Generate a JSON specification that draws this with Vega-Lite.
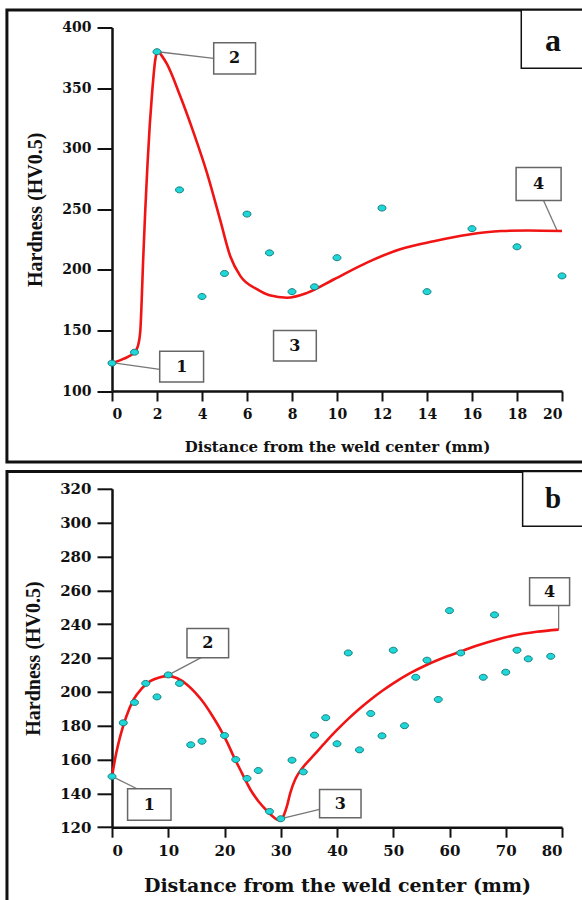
{
  "$schema": "https://vega.github.io/schema/vega-lite/v6.json",
  "padding": {"left": 5, "top": 8.5, "right": 0, "bottom": 0},
  "autosize": {"type": "pad"},
  "background": "white",
  "bounds": "flush",
  "spacing": 97.3,
  "config": {
    "view": {"stroke": null},
    "axis": {
      "grid": false,
      "domainColor": "#111111",
      "domainWidth": 2.5,
      "tickColor": "#111111",
      "tickWidth": 2,
      "labelFont": "DejaVu Serif",
      "labelFontWeight": "bold",
      "labelColor": "#111111",
      "titleColor": "#111111",
      "titleFontWeight": "bold"
    }
  },
  "datasets": {
    "pointsA": [
      {"x": 0, "y": 123}, {"x": 1, "y": 132}, {"x": 2, "y": 380}, {"x": 3, "y": 266},
      {"x": 4, "y": 178}, {"x": 5, "y": 197}, {"x": 6, "y": 246}, {"x": 7, "y": 214},
      {"x": 8, "y": 182}, {"x": 9, "y": 186}, {"x": 10, "y": 210}, {"x": 12, "y": 251},
      {"x": 14, "y": 182}, {"x": 16, "y": 234}, {"x": 18, "y": 219}, {"x": 20, "y": 195}
    ],
    "curveA": [
      {"x": 0, "y": 123}, {"x": 0.5, "y": 126.5}, {"x": 1.0, "y": 132}, {"x": 1.15, "y": 137},
      {"x": 1.26, "y": 150}, {"x": 1.32, "y": 175}, {"x": 1.38, "y": 206}, {"x": 1.48, "y": 250},
      {"x": 1.58, "y": 288}, {"x": 1.68, "y": 320}, {"x": 1.77, "y": 343}, {"x": 1.92, "y": 373},
      {"x": 2.03, "y": 381}, {"x": 2.2, "y": 377}, {"x": 2.44, "y": 370}, {"x": 3.04, "y": 343},
      {"x": 3.63, "y": 313}, {"x": 4.22, "y": 280}, {"x": 4.81, "y": 241}, {"x": 5.26, "y": 211},
      {"x": 5.7, "y": 195}, {"x": 6.44, "y": 184}, {"x": 7.0, "y": 179}, {"x": 7.78, "y": 177},
      {"x": 8.67, "y": 181}, {"x": 9.85, "y": 192}, {"x": 11.33, "y": 206}, {"x": 12.81, "y": 217},
      {"x": 14.3, "y": 223.6}, {"x": 15.8, "y": 229}, {"x": 17.3, "y": 232}, {"x": 18.5, "y": 232.5},
      {"x": 20, "y": 232}
    ],
    "boxesA": [
      {"x": 4.52, "x2": 6.38, "y": 361.7, "y2": 387.5},
      {"x": 2.12, "x2": 4.07, "y": 107.4, "y2": 132.9},
      {"x": 7.18, "x2": 9.08, "y": 124.7, "y2": 150},
      {"x": 17.96, "x2": 19.96, "y": 257.3, "y2": 284.5}
    ],
    "labelsA": [
      {"x": 5.45, "y": 374.6, "label": "2"},
      {"x": 3.1, "y": 120.2, "label": "1"},
      {"x": 8.13, "y": 137.4, "label": "3"},
      {"x": 18.96, "y": 270.9, "label": "4"}
    ],
    "leadersA": [
      {"x": 2.03, "y": 380, "x2": 4.52, "y2": 374.6},
      {"x": 0, "y": 123.4, "x2": 2.12, "y2": 117.9},
      {"x": 19.18, "y": 257.3, "x2": 19.78, "y2": 232.4}
    ],
    "frameA": [{"x": -4.67, "x2": 21.3, "y": 41.3, "y2": 414.4}],
    "tagBoxA": [{"x": 18.19, "x2": 21.3, "y": 366.4, "y2": 414.4}],
    "tagA": [{"x": 19.6, "y": 389, "label": "a"}],
    "pointsB": [
      {"x": 0, "y": 150}, {"x": 2, "y": 181.7}, {"x": 4, "y": 193.7}, {"x": 6, "y": 205},
      {"x": 8, "y": 197}, {"x": 10, "y": 210}, {"x": 12, "y": 205}, {"x": 14, "y": 168.7},
      {"x": 16, "y": 170.8}, {"x": 20, "y": 174.2}, {"x": 22, "y": 160}, {"x": 24, "y": 148.8},
      {"x": 26, "y": 153.5}, {"x": 28, "y": 129.3}, {"x": 30, "y": 125}, {"x": 32, "y": 159.6},
      {"x": 34, "y": 152.7}, {"x": 36, "y": 174.4}, {"x": 38, "y": 184.7}, {"x": 40, "y": 169.3},
      {"x": 42, "y": 223}, {"x": 44, "y": 165.7}, {"x": 46, "y": 187.2}, {"x": 48, "y": 174},
      {"x": 50, "y": 224.6}, {"x": 52, "y": 180}, {"x": 54, "y": 208.6}, {"x": 56, "y": 218.7},
      {"x": 58, "y": 195.5}, {"x": 60, "y": 248}, {"x": 62, "y": 223}, {"x": 66, "y": 208.6},
      {"x": 68, "y": 245.5}, {"x": 70, "y": 211.6}, {"x": 72, "y": 224.6}, {"x": 74, "y": 219.5},
      {"x": 78, "y": 221}
    ],
    "curveB": [
      {"x": 0, "y": 150}, {"x": 0.7, "y": 163}, {"x": 1.48, "y": 174}, {"x": 2.5, "y": 185},
      {"x": 3.85, "y": 195.5}, {"x": 5.3, "y": 202}, {"x": 6.8, "y": 206.3}, {"x": 8.4, "y": 208.5},
      {"x": 10, "y": 209.3}, {"x": 11.6, "y": 208}, {"x": 13.3, "y": 204.3}, {"x": 14.8, "y": 199.5},
      {"x": 16.3, "y": 193.5}, {"x": 17.8, "y": 186}, {"x": 19.3, "y": 177.7}, {"x": 20.5, "y": 170},
      {"x": 21.6, "y": 162}, {"x": 23.1, "y": 152}, {"x": 24.6, "y": 142.3}, {"x": 26.1, "y": 135},
      {"x": 27.6, "y": 129.5}, {"x": 28.7, "y": 126}, {"x": 29.6, "y": 124.2}, {"x": 30.1, "y": 124.3},
      {"x": 30.6, "y": 127.5}, {"x": 31.1, "y": 132.4}, {"x": 31.7, "y": 140.3}, {"x": 32.6, "y": 148.5},
      {"x": 33.4, "y": 153}, {"x": 34.1, "y": 156}, {"x": 36, "y": 163}, {"x": 38, "y": 170.5},
      {"x": 40, "y": 177.5}, {"x": 42, "y": 184}, {"x": 44, "y": 190}, {"x": 46, "y": 195.5},
      {"x": 48, "y": 200.5}, {"x": 50, "y": 205}, {"x": 53, "y": 211}, {"x": 56, "y": 216},
      {"x": 59.6, "y": 221}, {"x": 62.5, "y": 224.5}, {"x": 65.5, "y": 228}, {"x": 68.5, "y": 231},
      {"x": 71.4, "y": 233.3}, {"x": 75.5, "y": 235.5}, {"x": 79.4, "y": 236.8}
    ],
    "boxesB": [
      {"x": 13.33, "x2": 20.73, "y": 220.1, "y2": 237.4},
      {"x": 74.24, "x2": 81.35, "y": 251.0, "y2": 267.4},
      {"x": 2.77, "x2": 10.49, "y": 124.1, "y2": 142.7},
      {"x": 36.9, "x2": 44.27, "y": 125.6, "y2": 142.3}
    ],
    "labelsB": [
      {"x": 17.03, "y": 228.75, "label": "2"},
      {"x": 77.8, "y": 259.2, "label": "4"},
      {"x": 6.63, "y": 133.4, "label": "1"},
      {"x": 40.6, "y": 133.9, "label": "3"}
    ],
    "leadersB": [
      {"x": 10.07, "y": 210, "x2": 16.0, "y2": 220.5},
      {"x": 79.4, "y": 236.8, "x2": 79.4, "y2": 251.0},
      {"x": 0, "y": 150, "x2": 4.44, "y2": 142.7},
      {"x": 30.1, "y": 125, "x2": 36.9, "y2": 130.5}
    ],
    "frameB": [{"x": -18.67, "x2": 85, "y": 71.7, "y2": 330.2}],
    "tagBoxB": [{"x": 73.0, "x2": 85, "y": 297.9, "y2": 330.2}],
    "tagB": [{"x": 78.4, "y": 313.9, "label": "b"}]
  },
  "vconcat": [
    {
      "width": 450,
      "height": 363.5,
      "encoding": {
        "x": {
          "field": "x", "type": "quantitative",
          "scale": {"domain": [0, 20], "nice": false, "zero": false},
          "axis": {
            "values": [0, 2, 4, 6, 8, 10, 12, 14, 16, 18, 20],
            "tickSize": 10, "labelFontSize": 14, "labelPadding": 6,
            "title": "Distance from the weld center (mm)",
            "titleFont": "DejaVu Serif", "titleFontSize": 15, "titlePadding": 18
          }
        },
        "y": {
          "field": "y", "type": "quantitative",
          "scale": {"domain": [100, 400], "nice": false, "zero": false},
          "axis": {
            "values": [100, 150, 200, 250, 300, 350, 400],
            "tickSize": 15, "labelFontSize": 14, "labelPadding": 6,
            "title": "Hardness (HV0.5)",
            "titleFont": "Liberation Serif", "titleFontSize": 20, "titlePadding": 16
          }
        }
      },
      "layer": [
        {
          "data": {"name": "frameA"},
          "mark": {"type": "rect", "fill": "white", "fillOpacity": 0, "stroke": "#111111", "strokeWidth": 3},
          "encoding": {"x2": {"field": "x2"}, "y2": {"field": "y2"}}
        },
        {
          "data": {"name": "tagBoxA"},
          "mark": {"type": "rect", "fill": "white", "stroke": "#111111", "strokeWidth": 1.5},
          "encoding": {"x2": {"field": "x2"}, "y2": {"field": "y2"}}
        },
        {
          "data": {"name": "leadersA"},
          "mark": {"type": "rule", "stroke": "#777777", "strokeWidth": 1.3},
          "encoding": {"x2": {"field": "x2"}, "y2": {"field": "y2"}}
        },
        {
          "data": {"name": "boxesA"},
          "mark": {"type": "rect", "fill": "white", "stroke": "#666666", "strokeWidth": 1.5},
          "encoding": {"x2": {"field": "x2"}, "y2": {"field": "y2"}}
        },
        {
          "data": {"name": "curveA"},
          "mark": {"type": "line", "color": "#f01414", "strokeWidth": 2.6, "interpolate": "monotone"},
          "encoding": {}
        },
        {
          "data": {"name": "pointsA"},
          "mark": {"type": "point", "filled": true, "fill": "#1fd6d8", "stroke": "#17807f", "strokeWidth": 1, "opacity": 1, "size": 64, "shape": "M -1 0 A 1 0.75 0 1 1 1 0 A 1 0.75 0 1 1 -1 0 Z"},
          "encoding": {}
        },
        {
          "data": {"name": "labelsA"},
          "mark": {"type": "text", "font": "DejaVu Serif", "fontWeight": "bold", "fontSize": 16, "color": "#111111", "baseline": "middle", "align": "center"},
          "encoding": {"text": {"field": "label"}}
        },
        {
          "data": {"name": "tagA"},
          "mark": {"type": "text", "font": "Liberation Serif", "fontWeight": "bold", "fontSize": 32, "color": "#111111", "baseline": "middle", "align": "center"},
          "encoding": {"text": {"field": "label"}}
        }
      ]
    },
    {
      "width": 450,
      "height": 338.4,
      "encoding": {
        "x": {
          "field": "x", "type": "quantitative",
          "scale": {"domain": [0, 80], "nice": false, "zero": false},
          "axis": {
            "values": [0, 10, 20, 30, 40, 50, 60, 70, 80],
            "tickSize": 10, "labelFontSize": 15, "labelPadding": 6,
            "title": "Distance from the weld center (mm)",
            "titleFont": "DejaVu Serif", "titleFontSize": 19, "titlePadding": 18
          }
        },
        "y": {
          "field": "y", "type": "quantitative",
          "scale": {"domain": [120, 320], "nice": false, "zero": false},
          "axis": {
            "values": [120, 140, 160, 180, 200, 220, 240, 260, 280, 300, 320],
            "tickSize": 15, "labelFontSize": 15, "labelPadding": 6,
            "title": "Hardness (HV0.5)",
            "titleFont": "Liberation Serif", "titleFontSize": 20, "titlePadding": 16
          }
        }
      },
      "layer": [
        {
          "data": {"name": "frameB"},
          "mark": {"type": "rect", "fill": "white", "fillOpacity": 0, "stroke": "#111111", "strokeWidth": 3},
          "encoding": {"x2": {"field": "x2"}, "y2": {"field": "y2"}}
        },
        {
          "data": {"name": "tagBoxB"},
          "mark": {"type": "rect", "fill": "white", "stroke": "#111111", "strokeWidth": 1.5},
          "encoding": {"x2": {"field": "x2"}, "y2": {"field": "y2"}}
        },
        {
          "data": {"name": "leadersB"},
          "mark": {"type": "rule", "stroke": "#777777", "strokeWidth": 1.3},
          "encoding": {"x2": {"field": "x2"}, "y2": {"field": "y2"}}
        },
        {
          "data": {"name": "boxesB"},
          "mark": {"type": "rect", "fill": "white", "stroke": "#666666", "strokeWidth": 1.5},
          "encoding": {"x2": {"field": "x2"}, "y2": {"field": "y2"}}
        },
        {
          "data": {"name": "curveB"},
          "mark": {"type": "line", "color": "#f01414", "strokeWidth": 2.6, "interpolate": "monotone"},
          "encoding": {}
        },
        {
          "data": {"name": "pointsB"},
          "mark": {"type": "point", "filled": true, "fill": "#1fd6d8", "stroke": "#17807f", "strokeWidth": 1, "opacity": 1, "size": 64, "shape": "M -1 0 A 1 0.75 0 1 1 1 0 A 1 0.75 0 1 1 -1 0 Z"},
          "encoding": {}
        },
        {
          "data": {"name": "labelsB"},
          "mark": {"type": "text", "font": "DejaVu Serif", "fontWeight": "bold", "fontSize": 16, "color": "#111111", "baseline": "middle", "align": "center"},
          "encoding": {"text": {"field": "label"}}
        },
        {
          "data": {"name": "tagB"},
          "mark": {"type": "text", "font": "Liberation Serif", "fontWeight": "bold", "fontSize": 29, "color": "#111111", "baseline": "middle", "align": "center"},
          "encoding": {"text": {"field": "label"}}
        }
      ]
    }
  ]
}
